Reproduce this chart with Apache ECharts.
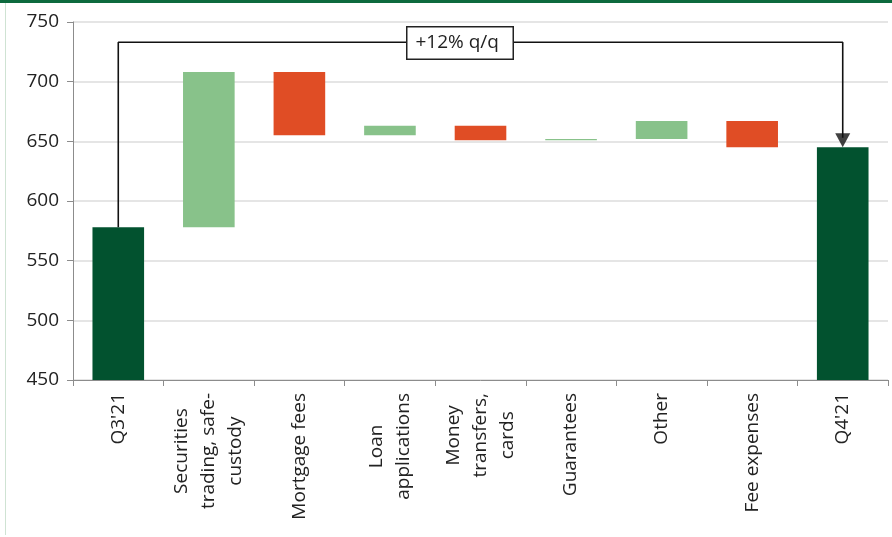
<!DOCTYPE html>
<html>
<head>
<meta charset="utf-8">
<script src="https://cdn.jsdelivr.net/npm/echarts@6/dist/echarts.min.js"></script>
<style>html,body{margin:0;padding:0;background:#fff}#c{width:892px;height:537px}</style>
</head>
<body>
<div id="c"></div>
<script>
const categories = ["Q3'21", "Securities\ntrading, safe-\ncustody", "Mortgage fees", "Loan\napplications", "Money\ntransfers,\ncards", "Guarantees", "Other", "Fee expenses", "Q4'21"];
const startValue = 578;
const changes = [130, -53, 8, -12, 1, 15, -22];
const endValue = 645;
const yTicks = [450, 500, 550, 600, 650, 700, 750];
const annotationText = "+12% q/q";
const bracketLevel = 733;

const DARK = '#02522F', UP = '#88C28A', DOWN = '#E04D25';
const base = [], height = [], colors = [];
base.push(0); height.push(startValue); colors.push(DARK);
let run = startValue;
changes.forEach(c => {
  const next = run + c;
  base.push(Math.min(run, next));
  height.push(Math.abs(c));
  colors.push(c >= 0 ? UP : DOWN);
  run = next;
});
base.push(0); height.push(endValue); colors.push(DARK);

const chart = echarts.init(document.getElementById('c'));
const FONT = '"Open Sans", sans-serif';
chart.setOption({
  animation: false,
  grid: { left: 73, right: 4, top: 22, bottom: 157, containLabel: false },
  xAxis: {
    type: 'category',
    data: categories,
    axisLine: { lineStyle: { color: '#8c8c8c', width: 1 } },
    axisTick: { show: true, length: 6, lineStyle: { color: '#8c8c8c' } },
    axisLabel: {
      rotate: 90, margin: 13, interval: 0,
      formatter: v => v.split('\n').map(s => '{c|' + s + '}').join('\n'),
      rich: { c: { align: 'center', fontFamily: FONT, fontSize: 19, color: '#222', lineHeight: 27 } }
    }
  },
  yAxis: {
    type: 'value', min: yTicks[0], max: yTicks[yTicks.length - 1], interval: yTicks[1] - yTicks[0],
    axisLine: { show: true, lineStyle: { color: '#8c8c8c' } },
    axisTick: { show: true, length: 6, lineStyle: { color: '#8c8c8c' } },
    axisLabel: { margin: 14, fontFamily: FONT, fontSize: 19, color: '#222' },
    splitLine: { lineStyle: { color: '#dcdcdc', width: 1.5 } }
  },
  series: [
    { type: 'bar', stack: 'w', data: base, itemStyle: { color: 'transparent' }, barWidth: '57%', silent: true },
    { type: 'bar', stack: 'w', data: height.map((h, i) => ({ value: h, itemStyle: { color: colors[i] } })), barWidth: '57%' },
    { type: 'line', data: [[0, startValue], [0, bracketLevel], [categories.length - 1, bracketLevel], [categories.length - 1, endValue + 8]],
      symbol: 'none', lineStyle: { color: '#111', width: 1.6 }, z: 5 },
    { type: 'scatter', data: [[categories.length - 1, endValue]], symbol: 'triangle', symbolRotate: 180,
      symbolSize: [15, 14], symbolOffset: [0, -7], itemStyle: { color: '#111' }, z: 6 }
  ],
  graphic: [
    { type: 'rect', left: 0, top: 0, shape: { width: 892, height: 3 }, style: { fill: '#0D6A3E' } },
    { type: 'rect', left: 5, top: 3, shape: { width: 1, height: 532 }, style: { fill: '#cfe3d3' } },
    { type: 'text', left: 406, top: 26, z: 10,
      style: { text: annotationText, font: '19px ' + FONT, fill: '#222', backgroundColor: '#fff',
               borderColor: '#222', borderWidth: 1.5, padding: [6, 8, 6, 8], width: 89, align: 'center' } }
  ]
});
</script>
</body>
</html>
